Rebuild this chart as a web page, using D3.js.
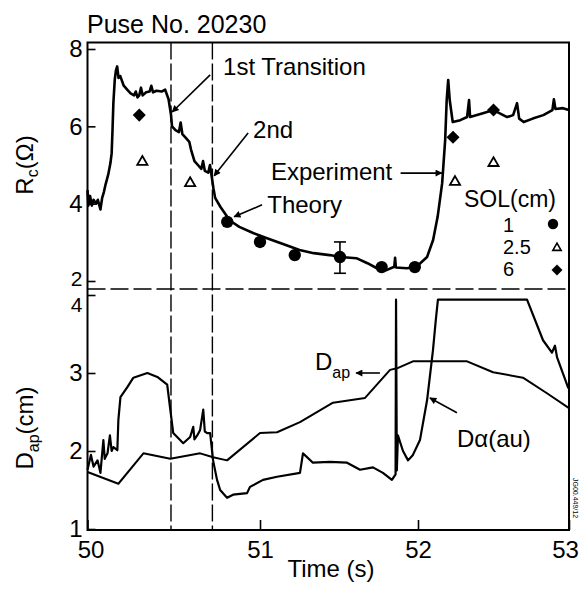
<!DOCTYPE html>
<html><head><meta charset="utf-8">
<script src="https://cdn.jsdelivr.net/npm/d3@7/dist/d3.min.js"></script>
<style>
body{margin:0;background:#fff}
text{font-family:"Liberation Sans",Arial,Helvetica,sans-serif;fill:#000}
</style>
</head><body>
<svg id="chart" width="579" height="592"></svg>
<script>
// ---------- data ----------
const timeTicks = [50, 51, 52, 53];
const rcTicks = [2, 4, 6, 8];
const dapTicks = [1, 2, 3, 4];
const transitions = [50.484, 50.724];

// Experimental Rc (ohm)
const rcTime = [50.000,50.005,50.015,50.025,50.035,50.050,50.060,50.075,50.085,50.095,50.105,50.120,50.133,50.140,50.145,50.150,50.158,50.165,50.172,50.180,50.190,50.210,50.230,50.250,50.270,50.280,50.290,50.300,50.310,50.320,50.340,50.360,50.370,50.380,50.400,50.430,50.450,50.470,50.484,50.490,50.510,50.530,50.540,50.550,50.570,50.590,50.600,50.620,50.640,50.660,50.670,50.680,50.700,50.710,50.720,50.730,50.740,50.770,50.810,50.840,50.880,50.960,51.040,51.150,51.250,51.340,51.440,51.510,51.610,51.680,51.740,51.800,51.850,51.855,51.860,51.930,51.990,52.060,52.100,52.130,52.160,52.180,52.190,52.200,52.210,52.230,52.280,52.325,52.338,52.345,52.430,52.500,52.590,52.630,52.656,52.670,52.700,52.760,52.830,52.890,52.900,52.910,52.960,53.000];
const rcValue = [4.35,3.95,4.20,3.95,4.10,4.00,4.10,3.85,4.15,4.30,4.50,4.75,5.05,5.30,5.90,6.60,7.20,7.45,7.55,7.25,7.30,7.05,6.95,6.85,6.80,6.90,6.75,6.80,7.00,6.80,6.88,6.90,7.05,6.88,6.92,6.90,6.95,6.70,6.30,6.00,5.90,5.85,6.10,5.80,5.70,5.60,5.40,5.10,5.00,4.90,5.10,4.85,4.80,5.00,4.70,4.40,4.15,3.92,3.66,3.52,3.40,3.24,3.11,2.95,2.80,2.72,2.67,2.62,2.59,2.46,2.33,2.28,2.37,2.60,2.35,2.33,2.37,2.62,3.06,3.66,4.53,5.65,6.68,7.20,6.68,6.11,6.16,6.24,6.68,6.24,6.34,6.42,6.24,6.29,6.60,6.20,6.11,6.20,6.29,6.42,6.70,6.45,6.47,6.42];

// Theory, SOL = 1 cm (circles), 2.5 cm (triangles), 6 cm (diamonds)
const sol1Time = [50.81, 51.00, 51.22, 51.506, 51.77, 51.98];
const sol1Value = [3.53, 3.01, 2.67, 2.62, 2.36, 2.36];
const sol25Time = [50.318, 50.595, 52.245, 52.50];
const sol25Value = [5.08, 4.53, 4.56, 5.05];
const sol6Time = [50.30, 52.232, 52.50];
const sol6Value = [6.29, 5.72, 6.42];
const errTime = [51.506];
const errLow = [2.20];
const errHigh = [3.01];

// Dap (cm)
const dapTime = [50.000,50.179,50.324,50.480,50.653,50.728,50.809,51.000,51.108,51.253,51.462,51.665,51.823,51.867,51.968,52.325,52.497,52.695,52.854,53.000];
const dapValue = [1.73,1.58,1.97,1.90,1.97,1.92,1.88,2.23,2.24,2.37,2.62,2.68,3.04,3.06,3.15,3.15,3.01,2.94,2.74,2.55];

// D-alpha (a.u.)
const daTime = [50.000,50.020,50.035,50.058,50.075,50.092,50.100,50.116,50.130,50.140,50.150,50.173,50.179,50.191,50.231,50.266,50.347,50.405,50.462,50.480,50.497,50.555,50.595,50.613,50.620,50.636,50.653,50.671,50.680,50.694,50.711,50.728,50.751,50.769,50.809,50.844,50.925,50.942,51.019,51.108,51.253,51.272,51.335,51.443,51.551,51.633,51.715,51.778,51.835,51.858,51.861,51.866,51.873,51.905,51.937,51.968,52.013,52.060,52.099,52.118,52.132,52.722,52.828,52.887,52.907,52.921,52.993,53.000];
const daValue = [1.76,1.95,1.80,1.88,1.72,2.14,1.90,1.97,2.20,2.00,2.05,2.01,2.40,2.69,2.82,2.94,3.00,2.95,2.85,2.53,2.23,2.10,2.18,2.31,2.15,2.20,2.27,2.53,2.25,2.23,2.23,1.88,1.63,1.50,1.40,1.44,1.46,1.54,1.63,1.67,1.72,1.97,1.85,1.86,1.85,1.76,1.79,1.72,1.63,1.70,3.94,1.75,2.20,2.00,1.88,1.95,2.14,2.65,3.29,3.68,3.94,3.94,3.42,3.26,3.35,3.20,2.82,2.80];

// ---------- layout ----------
const svg = d3.select("#chart");
const L = 87.5, R = 569, TOP = 42.5, MID = 289, BOT = 530;

const x = d3.scaleLinear().domain(timeTicks).range([87.5, 260, 418, 569]);
const yTop = d3.scaleLinear().domain([2, 8]).range([281, 49]);
const yBot = d3.scaleLinear().domain([1, 4]).range([529, 295]);

const zip = (a, b) => a.map((d, i) => [d, b[i]]);

// arrow marker
const defs = svg.append("defs");
defs.append("marker").attr("id", "ah").attr("viewBox", "0 0 10 10")
  .attr("refX", 9).attr("refY", 5).attr("markerWidth", 9).attr("markerHeight", 7)
  .attr("markerUnits", "userSpaceOnUse").attr("orient", "auto")
  .append("path").attr("d", "M0,0 L10,5 L0,10 Z").attr("fill", "#000");

// frame
svg.append("path")
  .attr("d", `M${L},${TOP} H${R} V${BOT} H${L} Z`)
  .attr("fill", "none").attr("stroke", "#000").attr("stroke-width", 2);

// dashed separator & transition lines
svg.append("line").attr("x1", L).attr("x2", R).attr("y1", MID).attr("y2", MID)
  .attr("stroke", "#000").attr("stroke-width", 1.6).attr("stroke-dasharray", "18,5");
svg.selectAll(".trans").data(transitions).join("line")
  .attr("x1", d => x(d)).attr("x2", d => x(d)).attr("y1", TOP).attr("y2", BOT)
  .attr("stroke", "#000").attr("stroke-width", 1.4).attr("stroke-dasharray", "17,4");

// axes
const gy1 = svg.append("g").attr("transform", `translate(${L},0)`)
  .call(d3.axisLeft(yTop).tickValues(rcTicks).tickSize(-8).tickPadding(5).tickFormat(d3.format("d")));
const gy2 = svg.append("g").attr("transform", `translate(${L},0)`)
  .call(d3.axisLeft(yBot).tickValues(dapTicks).tickSize(-8).tickPadding(5).tickFormat(d3.format("d")));
const gx = svg.append("g").attr("transform", `translate(0,${BOT})`)
  .call(d3.axisBottom(x).tickValues(timeTicks).tickSize(-10).tickPadding(11).tickFormat(d3.format("d")));
[gy1, gy2, gx].forEach(g => {
  g.select(".domain").remove();
  g.selectAll(".tick line").attr("stroke", "#000").attr("stroke-width", 1.6);
  g.selectAll("text").attr("font-size", 24).attr("font-family", "Liberation Sans, Arial, sans-serif").attr("fill", "#000");
});
gy1.selectAll(".tick text").filter(d => d === 2).attr("font-size", 21).attr("dy", "0.2em");
gy2.selectAll(".tick text").filter(d => d === 4).attr("font-size", 21).attr("dy", "0.8em");
gx.selectAll(".tick text").filter(d => d === 50).attr("dx", 3);
gx.selectAll(".tick text").filter(d => d === 53).attr("dx", -4);

// lines
const lineTop = d3.line().x(d => x(d[0])).y(d => yTop(d[1]));
const lineBot = d3.line().x(d => x(d[0])).y(d => yBot(d[1]));

svg.append("path").datum(zip(rcTime, rcValue)).attr("d", lineTop)
  .attr("fill", "none").attr("stroke", "#000").attr("stroke-width", 2.6).attr("stroke-linejoin", "round");
svg.append("path").datum(zip(dapTime, dapValue)).attr("d", lineBot)
  .attr("fill", "none").attr("stroke", "#000").attr("stroke-width", 2).attr("stroke-linejoin", "round");
svg.append("path").datum(zip(daTime, daValue)).attr("d", lineBot)
  .attr("fill", "none").attr("stroke", "#000").attr("stroke-width", 2.2).attr("stroke-linejoin", "round");

// error bar
errTime.forEach((t, i) => {
  const g = svg.append("g").attr("stroke", "#000").attr("stroke-width", 1.6);
  g.append("line").attr("x1", x(t)).attr("x2", x(t)).attr("y1", yTop(errLow[i])).attr("y2", yTop(errHigh[i]));
  g.append("line").attr("x1", x(t) - 6).attr("x2", x(t) + 6).attr("y1", yTop(errLow[i])).attr("y2", yTop(errLow[i]));
  g.append("line").attr("x1", x(t) - 6).attr("x2", x(t) + 6).attr("y1", yTop(errHigh[i])).attr("y2", yTop(errHigh[i]));
});

// markers
const circ = d3.symbol().type(d3.symbolCircle).size(120);
const tri = d3.symbol().type(d3.symbolTriangle).size(45);
const dia = d3.symbol().type(d3.symbolSquare).size(85);
svg.selectAll(".s1").data(zip(sol1Time, sol1Value)).join("path")
  .attr("d", circ).attr("transform", d => `translate(${x(d[0])},${yTop(d[1])})`).attr("fill", "#000");
svg.selectAll(".s25").data(zip(sol25Time, sol25Value)).join("path")
  .attr("d", tri).attr("transform", d => `translate(${x(d[0])},${yTop(d[1])})`)
  .attr("fill", "#fff").attr("stroke", "#000").attr("stroke-width", 1.8);
svg.selectAll(".s6").data(zip(sol6Time, sol6Value)).join("path")
  .attr("d", dia).attr("transform", d => `translate(${x(d[0])},${yTop(d[1])}) rotate(45)`).attr("fill", "#000");

// title
svg.append("text").attr("x", 87).attr("y", 33).attr("font-size", 25).text("Puse No. 20230");

// axis titles
const yl1 = svg.append("text").attr("transform", "translate(33,165) rotate(-90)")
  .attr("text-anchor", "middle").attr("font-size", 24);
yl1.append("tspan").text("R");
yl1.append("tspan").attr("font-size", 16).attr("dy", 5).text("c");
yl1.append("tspan").attr("dy", -5).text("(Ω)");
const yl2 = svg.append("text").attr("transform", "translate(33,428) rotate(-90)")
  .attr("text-anchor", "middle").attr("font-size", 24);
yl2.append("tspan").text("D");
yl2.append("tspan").attr("font-size", 16).attr("dy", 6).text("ap");
yl2.append("tspan").attr("dy", -6).text("(cm)");
svg.append("text").attr("x", 331).attr("y", 577).attr("text-anchor", "middle")
  .attr("font-size", 24).text("Time (s)");

// annotations (positions in data units)
function arrow(yS, t1, v1, t2, v2) {
  svg.append("line").attr("x1", x(t1)).attr("y1", yS(v1)).attr("x2", x(t2)).attr("y2", yS(v2))
    .attr("stroke", "#000").attr("stroke-width", 1.6).attr("marker-end", "url(#ah)");
}
function label(yS, t, v, s) {
  return svg.append("text").attr("x", x(t)).attr("y", yS(v)).attr("font-size", 24).text(s);
}
label(yTop, 50.786, 7.33, "1st Transition");
arrow(yTop, 50.711, 7.33, 50.491, 6.37);
label(yTop, 50.960, 5.70, "2nd");
arrow(yTop, 50.931, 5.83, 50.734, 4.72);
label(yTop, 51.069, 4.61, "Experiment");
arrow(yTop, 51.890, 4.79, 52.158, 4.79);
label(yTop, 51.046, 3.76, "Theory");
arrow(yTop, 51.013, 3.97, 50.850, 3.66);

const dl = label(yBot, 51.348, 3.04, "D");
dl.append("tspan").attr("font-size", 16).attr("dy", 8).text("ap");
arrow(yBot, 51.759, 3.00, 51.608, 3.00);
label(yBot, 52.258, 2.05, "Dα(au)");
arrow(yBot, 52.258, 2.49, 52.079, 2.68);

// legend
const lg = svg.append("g");
lg.append("text").attr("x", 464).attr("y", 207).attr("font-size", 23).text("SOL(cm)");
lg.append("text").attr("x", 503).attr("y", 232).attr("font-size", 20).text("1");
lg.append("text").attr("x", 503).attr("y", 254).attr("font-size", 20).text("2.5");
lg.append("text").attr("x", 503).attr("y", 276).attr("font-size", 20).text("6");
lg.append("path").attr("d", d3.symbol().type(d3.symbolCircle).size(85)).attr("transform", "translate(553,224)").attr("fill", "#000");
lg.append("path").attr("d", d3.symbol().type(d3.symbolTriangle).size(30)).attr("transform", "translate(557,248)")
  .attr("fill", "#fff").attr("stroke", "#000").attr("stroke-width", 1.6);
lg.append("path").attr("d", d3.symbol().type(d3.symbolSquare).size(60)).attr("transform", "translate(557,270) rotate(45)").attr("fill", "#000");

// side stamp
svg.append("text").attr("transform", "translate(573,478) rotate(90)").attr("font-size", 7).text("JG00.449/12");
</script>
</body></html>
